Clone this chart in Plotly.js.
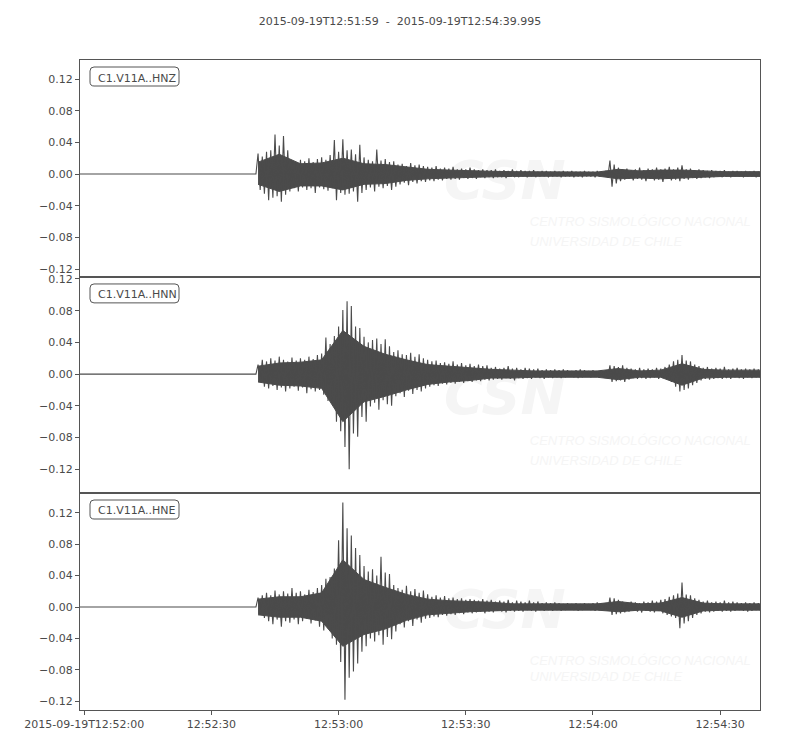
<!DOCTYPE html>
<html>
<head>
<meta charset="utf-8">
<script src="https://cdn.plot.ly/plotly-3.0.1.min.js"></script>
<style>html,body{margin:0;padding:0;background:#fff;}#chart{width:800px;height:750px;}</style>
</head>
<body>
<div id="chart"></div>
<script>
// ---- data ----
const startTime = '2015-09-19T12:51:59';
const endTime = '2015-09-19T12:54:39.995';
const onsetSecond = 42;           // seconds after startTime where the per-second samples begin
const channels = ['C1.V11A..HNZ', 'C1.V11A..HNN', 'C1.V11A..HNE'];
const tickTimes = ['2015-09-19 12:52:00', '2015-09-19 12:52:30', '2015-09-19 12:53:00', '2015-09-19 12:53:30', '2015-09-19 12:54:00', '2015-09-19 12:54:30'];
const tickLabels = ['2015-09-19T12:52:00', '12:52:30', '12:53:00', '12:53:30', '12:54:00', '12:54:30'];
const yTicks = [-0.12, -0.08, -0.04, 0, 0.04, 0.08, 0.12];
const watermarkLines = ['CSN', 'CENTRO SISMOLÓGICO NACIONAL', 'UNIVERSIDAD DE CHILE'];

// per-second peak (max / min) values
const hnzMax = [0.026,0.022,0.028,0.030,0.050,0.036,0.048,0.030,0.017,0.014,0.018,0.016,0.020,0.015,0.019,0.021,0.018,0.024,0.043,0.028,
0.044,0.030,0.031,0.025,0.037,0.021,0.018,0.016,0.031,0.017,0.019,0.015,0.016,0.012,0.013,0.010,0.014,0.011,0.012,0.010,
0.009,0.008,0.010,0.007,0.008,0.007,0.009,0.006,0.007,0.006,0.008,0.006,0.005,0.006,0.005,0.005,0.006,0.004,0.005,0.004,
0.006,0.004,0.005,0.004,0.004,0.005,0.003,0.004,0.004,0.003,0.004,0.003,0.004,0.003,0.004,0.003,0.003,0.004,0.003,0.003,
0.004,0.003,0.004,0.017,0.012,0.008,0.006,0.007,0.005,0.006,0.008,0.005,0.007,0.006,0.008,0.006,0.007,0.009,0.006,0.008,
0.011,0.006,0.007,0.005,0.006,0.005,0.004,0.005,0.004,0.004,0.005,0.003,0.004,0.004,0.003,0.004,0.003,0.004,0.003];
const hnzMin = [-0.020,-0.025,-0.033,-0.030,-0.028,-0.035,-0.026,-0.022,-0.018,-0.022,-0.017,-0.020,-0.018,-0.024,-0.017,-0.019,-0.021,-0.018,-0.033,-0.024,
-0.026,-0.025,-0.022,-0.035,-0.024,-0.020,-0.017,-0.022,-0.016,-0.018,-0.015,-0.020,-0.016,-0.013,-0.011,-0.014,-0.010,-0.012,-0.009,-0.010,
-0.008,-0.009,-0.007,-0.008,-0.006,-0.007,-0.006,-0.007,-0.005,-0.006,-0.005,-0.006,-0.004,-0.005,-0.004,-0.005,-0.004,-0.004,-0.005,-0.003,
-0.004,-0.004,-0.003,-0.004,-0.003,-0.004,-0.003,-0.003,-0.004,-0.003,-0.003,-0.004,-0.003,-0.003,-0.004,-0.003,-0.004,-0.003,-0.003,-0.004,
-0.003,-0.003,-0.004,-0.016,-0.012,-0.009,-0.007,-0.006,-0.008,-0.006,-0.007,-0.009,-0.006,-0.008,-0.007,-0.010,-0.006,-0.008,-0.007,-0.009,
-0.006,-0.007,-0.005,-0.006,-0.005,-0.004,-0.005,-0.004,-0.003,-0.004,-0.003,-0.004,-0.003,-0.003,-0.004,-0.003,-0.003,-0.004,-0.003];

const hnnMax = [0.012,0.018,0.016,0.020,0.017,0.022,0.018,0.016,0.021,0.017,0.020,0.018,0.022,0.019,0.024,0.026,0.046,0.038,0.048,0.060,
0.081,0.092,0.086,0.060,0.058,0.047,0.040,0.043,0.045,0.038,0.044,0.035,0.028,0.030,0.025,0.024,0.027,0.022,0.025,0.020,
0.018,0.016,0.017,0.014,0.015,0.013,0.016,0.012,0.014,0.011,0.013,0.010,0.012,0.010,0.011,0.008,0.009,0.007,0.008,0.010,
0.007,0.008,0.006,0.008,0.007,0.006,0.007,0.005,0.006,0.005,0.006,0.005,0.006,0.005,0.004,0.005,0.006,0.005,0.004,0.005,
0.004,0.005,0.004,0.011,0.010,0.009,0.011,0.008,0.007,0.006,0.008,0.006,0.007,0.006,0.008,0.007,0.009,0.012,0.016,0.018,
0.024,0.017,0.016,0.012,0.010,0.008,0.009,0.007,0.008,0.007,0.009,0.006,0.007,0.008,0.006,0.007,0.006,0.007,0.006];
const hnnMin = [-0.010,-0.016,-0.018,-0.015,-0.020,-0.017,-0.022,-0.018,-0.016,-0.021,-0.017,-0.024,-0.019,-0.022,-0.020,-0.026,-0.034,-0.037,-0.060,-0.072,
-0.092,-0.120,-0.075,-0.079,-0.054,-0.060,-0.041,-0.036,-0.045,-0.033,-0.038,-0.040,-0.028,-0.024,-0.029,-0.021,-0.025,-0.020,-0.022,-0.018,
-0.016,-0.014,-0.015,-0.012,-0.013,-0.011,-0.012,-0.010,-0.011,-0.009,-0.010,-0.008,-0.009,-0.007,-0.008,-0.007,-0.006,-0.007,-0.005,-0.006,
-0.008,-0.005,-0.006,-0.005,-0.006,-0.004,-0.005,-0.006,-0.004,-0.005,-0.004,-0.005,-0.004,-0.003,-0.004,-0.005,-0.004,-0.003,-0.004,-0.003,
-0.004,-0.003,-0.004,-0.010,-0.009,-0.008,-0.010,-0.007,-0.005,-0.006,-0.005,-0.006,-0.005,-0.004,-0.006,-0.005,-0.007,-0.010,-0.016,-0.022,
-0.020,-0.018,-0.014,-0.011,-0.008,-0.006,-0.007,-0.006,-0.005,-0.006,-0.005,-0.006,-0.004,-0.005,-0.006,-0.004,-0.005,-0.004,-0.005];

const hneMax = [0.012,0.015,0.018,0.015,0.021,0.016,0.020,0.017,0.024,0.018,0.020,0.016,0.022,0.019,0.024,0.028,0.036,0.038,0.049,0.085,
0.133,0.100,0.091,0.075,0.066,0.052,0.045,0.048,0.040,0.064,0.044,0.042,0.028,0.024,0.022,0.027,0.020,0.023,0.018,0.021,
0.016,0.013,0.015,0.012,0.014,0.011,0.012,0.010,0.011,0.009,0.010,0.009,0.008,0.010,0.008,0.009,0.007,0.008,0.007,0.009,
0.006,0.008,0.007,0.006,0.008,0.006,0.007,0.005,0.006,0.005,0.006,0.005,0.004,0.005,0.004,0.005,0.004,0.005,0.004,0.005,
0.006,0.005,0.004,0.012,0.011,0.009,0.007,0.006,0.007,0.006,0.005,0.007,0.006,0.008,0.007,0.009,0.010,0.013,0.015,0.017,
0.031,0.016,0.015,0.011,0.009,0.007,0.008,0.006,0.007,0.006,0.008,0.006,0.007,0.006,0.005,0.006,0.005,0.006,0.005];
const hneMin = [-0.010,-0.014,-0.018,-0.022,-0.016,-0.025,-0.018,-0.020,-0.016,-0.022,-0.018,-0.015,-0.021,-0.017,-0.025,-0.030,-0.027,-0.040,-0.048,-0.070,
-0.118,-0.090,-0.082,-0.072,-0.057,-0.050,-0.040,-0.044,-0.036,-0.048,-0.038,-0.041,-0.031,-0.022,-0.026,-0.018,-0.024,-0.016,-0.020,-0.015,
-0.014,-0.012,-0.013,-0.010,-0.011,-0.009,-0.010,-0.008,-0.009,-0.007,-0.008,-0.007,-0.006,-0.008,-0.006,-0.007,-0.005,-0.006,-0.007,-0.005,
-0.006,-0.005,-0.006,-0.004,-0.005,-0.006,-0.004,-0.005,-0.004,-0.005,-0.004,-0.005,-0.004,-0.003,-0.004,-0.005,-0.004,-0.003,-0.004,-0.005,
-0.004,-0.003,-0.004,-0.010,-0.009,-0.008,-0.007,-0.006,-0.005,-0.006,-0.007,-0.005,-0.006,-0.007,-0.005,-0.008,-0.010,-0.012,-0.014,-0.027,
-0.021,-0.018,-0.014,-0.010,-0.008,-0.006,-0.007,-0.006,-0.005,-0.006,-0.005,-0.006,-0.005,-0.004,-0.005,-0.006,-0.005,-0.004,-0.005];

// solid core of each record (dense part of the trace), read every 5 s
const coreSeconds = [42, 47, 52, 57, 62, 67, 72, 77, 82, 87, 92, 97, 102, 107, 112, 117, 122, 127, 132, 137, 142, 147, 152, 157, 161];
const hnzCoreMax = [0.015,0.025,0.013,0.014,0.020,0.013,0.012,0.009,0.006,0.005,0.004,0.0035,0.003,0.003,0.0025,0.0025,0.0025,0.006,0.004,0.005,0.005,0.004,0.003,0.003,0.003];
const hnzCoreMin = [-0.013,-0.022,-0.015,-0.015,-0.020,-0.013,-0.012,-0.008,-0.006,-0.005,-0.004,-0.0035,-0.003,-0.003,-0.0025,-0.0025,-0.0025,-0.006,-0.005,-0.006,-0.005,-0.004,-0.003,-0.003,-0.003];
const hnnCoreMax = [0.010,0.014,0.015,0.018,0.055,0.035,0.025,0.018,0.012,0.010,0.008,0.006,0.005,0.004,0.004,0.004,0.004,0.007,0.004,0.005,0.013,0.006,0.005,0.005,0.005];
const hnnCoreMin = [-0.010,-0.014,-0.015,-0.018,-0.060,-0.035,-0.028,-0.020,-0.013,-0.010,-0.008,-0.005,-0.005,-0.004,-0.004,-0.004,-0.004,-0.007,-0.004,-0.004,-0.014,-0.005,-0.004,-0.004,-0.004];
const hneCoreMax = [0.010,0.013,0.013,0.018,0.060,0.035,0.025,0.016,0.010,0.008,0.007,0.006,0.004,0.004,0.004,0.004,0.004,0.007,0.004,0.005,0.012,0.005,0.004,0.004,0.004];
const hneCoreMin = [-0.010,-0.013,-0.013,-0.018,-0.050,-0.035,-0.028,-0.017,-0.010,-0.008,-0.006,-0.005,-0.004,-0.004,-0.004,-0.004,-0.004,-0.006,-0.004,-0.005,-0.013,-0.005,-0.004,-0.004,-0.004];

// ---- helpers ----
const baseMs = Date.parse(startTime + 'Z');
function stamp(sec) { return new Date(baseMs + sec * 1000).toISOString().replace('T', ' ').replace('Z', ''); }
const INK = '#4b4b4b';
const WM = '#f5f5f5';
const FONT = 'DejaVu Sans, Liberation Sans, sans-serif';

function axisSuffix(i) { return i === 1 ? '' : String(i); }

// solid core band (polygon: upper edge forward, lower edge back)
function coreTrace(cMax, cMin, axisIdx) {
  const s = axisSuffix(axisIdx);
  const x = [], y = [];
  coreSeconds.forEach((t, i) => { x.push(stamp(t)); y.push(cMax[i]); });
  for (let i = coreSeconds.length - 1; i >= 0; i--) { x.push(stamp(coreSeconds[i])); y.push(cMin[i]); }
  return { x, y, type: 'scatter', mode: 'lines', fill: 'toself', fillcolor: INK,
    xaxis: 'x' + s, yaxis: 'y' + s, line: { color: INK, width: 1 }, hoverinfo: 'skip', showlegend: false };
}

// flat pre-event line, then a min/max zig-zag (max at each second, min half a second later)
function waveTrace(maxArr, minArr, axisIdx) {
  const s = axisSuffix(axisIdx);
  const x = [stamp(0), stamp(onsetSecond - 0.5)], y = [0, 0];
  for (let i = 0; i < maxArr.length; i++) {
    x.push(stamp(onsetSecond + i)); y.push(maxArr[i]);
    x.push(stamp(onsetSecond + i + 0.5)); y.push(minArr[i]);
  }
  return { x, y, type: 'scatter', mode: 'lines', xaxis: 'x' + s, yaxis: 'y' + s,
    line: { color: INK, width: 1.1 }, hoverinfo: 'skip', showlegend: false };
}

// faint watermark drawn beneath the waveform (as text traces in the plot layer)
function watermark(axisIdx, csnY, line1Y, line2Y) {
  const s = axisSuffix(axisIdx);
  return [
    { x: [stamp(100.2)], y: [csnY], text: [watermarkLines[0]], type: 'scatter', mode: 'text',
      textposition: 'middle center', xaxis: 'x' + s, yaxis: 'y' + s, hoverinfo: 'skip', showlegend: false,
      textfont: { family: FONT, size: 54, color: WM, style: 'italic', weight: 'bold' } },
    { x: [stamp(106.1)], y: [line1Y], text: [watermarkLines[1]], type: 'scatter', mode: 'text',
      textposition: 'middle right', xaxis: 'x' + s, yaxis: 'y' + s, hoverinfo: 'skip', showlegend: false,
      textfont: { family: 'Liberation Sans, sans-serif', size: 13, color: WM, style: 'italic' } },
    { x: [stamp(106.1)], y: [line2Y], text: [watermarkLines[2]], type: 'scatter', mode: 'text',
      textposition: 'middle right', xaxis: 'x' + s, yaxis: 'y' + s, hoverinfo: 'skip', showlegend: false,
      textfont: { family: 'Liberation Sans, sans-serif', size: 13, color: WM, style: 'italic' } }
  ];
}

// bottom = axis 1 (HNE), middle = axis 2 (HNN), top = axis 3 (HNZ)
const data = [].concat(
  watermark(3, -0.014, -0.061, -0.087),
  watermark(2, -0.033, -0.085, -0.111),
  watermark(1, -0.010, -0.069, -0.090),
  [coreTrace(hneCoreMax, hneCoreMin, 1), coreTrace(hnnCoreMax, hnnCoreMin, 2), coreTrace(hnzCoreMax, hnzCoreMin, 3)],
  [waveTrace(hneMax, hneMin, 1), waveTrace(hnnMax, hnnMin, 2), waveTrace(hnzMax, hnzMin, 3)]
);

const xRange = ['2015-09-19 12:51:59', '2015-09-19 12:54:39.4'];
const frame = { showline: true, mirror: true, linecolor: '#555', linewidth: 1, showgrid: false, zeroline: false };

function xAxis(showTicks) {
  return Object.assign({}, frame, {
    type: 'date', range: xRange,
    tickmode: 'array', tickvals: tickTimes, ticktext: tickLabels,
    ticks: showTicks ? 'outside' : '', ticklen: 4, tickcolor: '#555',
    showticklabels: showTicks, tickfont: { family: FONT, size: 11, color: '#4a4a4a' }
  });
}
function yAxis(range, domain, anchor) {
  return Object.assign({}, frame, {
    range, domain, anchor,
    tickmode: 'array', tickvals: yTicks, tickformat: '.2f',
    ticks: 'outside', ticklen: 4, tickcolor: '#555',
    tickfont: { family: FONT, size: 11, color: '#4a4a4a' }
  });
}

const d1 = 217 / 650, d2 = 433 / 650;
const layout = {
  width: 800, height: 750,
  margin: { l: 80, r: 40, t: 60, b: 40 },
  paper_bgcolor: '#fff', plot_bgcolor: '#fff',
  font: { family: FONT, size: 11, color: '#4a4a4a' },
  title: { text: startTime + '\u00a0\u00a0-\u00a0\u00a0' + endTime, x: 0.5, xanchor: 'center',
    y: 1 - 21 / 750, yanchor: 'middle', yref: 'container', font: { family: FONT, size: 11, color: '#4a4a4a' } },
  xaxis: Object.assign(xAxis(true), { anchor: 'y' }),
  xaxis2: Object.assign(xAxis(false), { anchor: 'y2', matches: 'x' }),
  xaxis3: Object.assign(xAxis(false), { anchor: 'y3', matches: 'x' }),
  yaxis: yAxis([-0.131, 0.145], [0, d1], 'x'),
  yaxis2: yAxis([-0.150, 0.1225], [d1, d2], 'x2'),
  yaxis3: yAxis([-0.130, 0.144], [d2, 1], 'x3'),
  annotations: [],
  shapes: [],
  hovermode: false
};

// channel labels in rounded boxes
const panels = [{ s: '3', name: channels[0] }, { s: '2', name: channels[1] }, { s: '', name: channels[2] }];
panels.forEach(p => {
  layout.annotations.push({ xref: 'x' + p.s + ' domain', yref: 'y' + p.s + ' domain', x: 16 / 680, y: 1 - 9.5 / 217,
    text: p.name, showarrow: false, xanchor: 'left', yanchor: 'top',
    font: { family: FONT, size: 11, color: '#4a4a4a' } });
  const W = 680, H = 217, r = 4;
  const x0 = 10, x1 = 99, yT = 7, yB = 26;
  const fx = v => (v / W).toFixed(5), fy = v => (1 - v / H).toFixed(5);
  const path = `M ${fx(x0 + r)} ${fy(yT)} L ${fx(x1 - r)} ${fy(yT)} Q ${fx(x1)} ${fy(yT)} ${fx(x1)} ${fy(yT + r)} ` +
    `L ${fx(x1)} ${fy(yB - r)} Q ${fx(x1)} ${fy(yB)} ${fx(x1 - r)} ${fy(yB)} L ${fx(x0 + r)} ${fy(yB)} ` +
    `Q ${fx(x0)} ${fy(yB)} ${fx(x0)} ${fy(yB - r)} L ${fx(x0)} ${fy(yT + r)} Q ${fx(x0)} ${fy(yT)} ${fx(x0 + r)} ${fy(yT)} Z`;
  layout.shapes.push({ type: 'path', xref: 'x' + p.s + ' domain', yref: 'y' + p.s + ' domain', path,
    line: { color: '#555', width: 1 }, fillcolor: 'rgba(255,255,255,0.9)', layer: 'above' });
});

Plotly.newPlot('chart', data, layout, { displayModeBar: false, staticPlot: true });
</script>
</body>
</html>
